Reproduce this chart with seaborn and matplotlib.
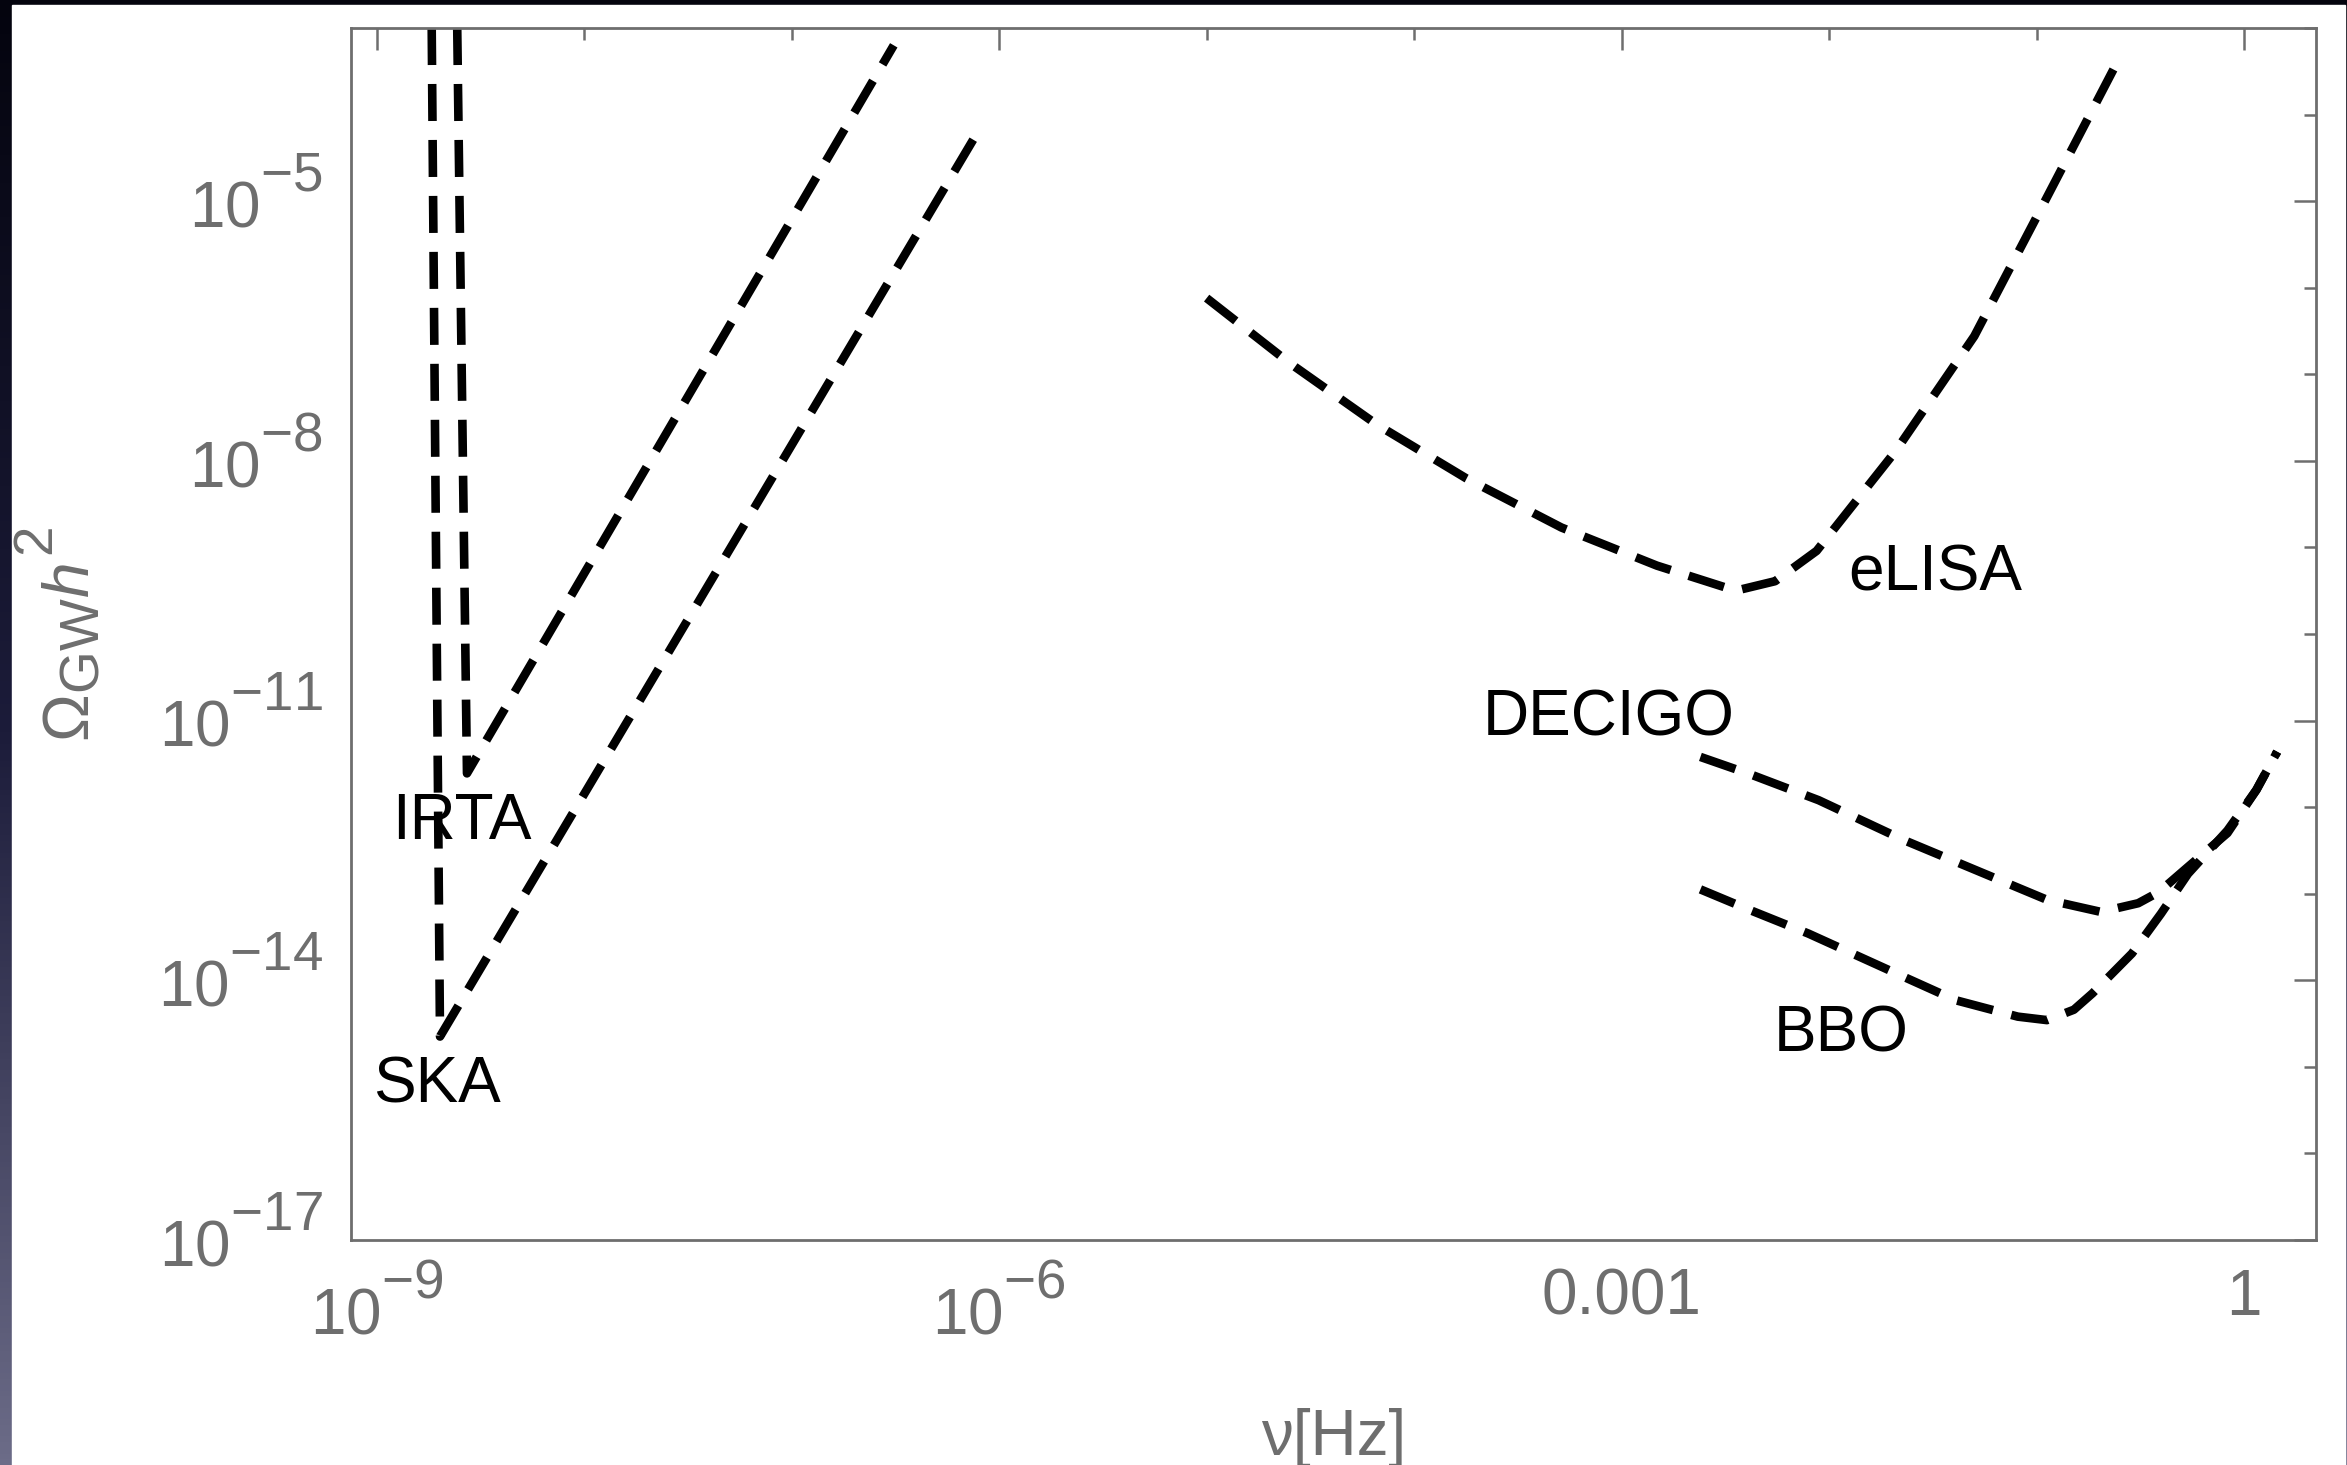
import numpy as np
import pandas as pd
import matplotlib
matplotlib.use("Agg")
import matplotlib.pyplot as plt
import matplotlib._mathtext as _mt
from matplotlib.colors import LinearSegmentedColormap
from matplotlib.patches import Rectangle
from matplotlib.ticker import FixedLocator, FixedFormatter, NullFormatter
import seaborn as sns

# ---------------- data (log10 values) ----------------
ska_logx = [-8.735, -8.695, -6.125]
ska_logy = [-3.0, -14.65, -4.29]

irta_logx = [-8.612, -8.565, -6.508]
irta_logy = [-3.0, -11.61, -3.20]

elisa_logx = [-5.00, -4.60, -4.18, -3.75, -3.29, -2.83, -2.45, -2.26, -2.06,
              -1.68, -1.30, -0.99, -0.61]
elisa_logy = [-6.12, -6.87, -7.58, -8.20, -8.77, -9.21, -9.50, -9.39, -9.04,
              -7.89, -6.56, -5.14, -3.39]

decigo_logx = [-2.62, -2.38, -2.05, -1.64, -1.37, -0.95, -0.69, -0.51, -0.41,
               -0.27, -0.08, 0.06, 0.16]
decigo_logy = [-11.42, -11.62, -11.92, -12.38, -12.65, -13.07, -13.21, -13.11,
               -12.98, -12.69, -12.30, -11.80, -11.36]

bbo_logx = [-2.62, -2.38, -2.10, -1.64, -1.39, -1.09, -0.95, -0.82, -0.73,
            -0.54, -0.40, -0.27, -0.08, 0.06, 0.16]
bbo_logy = [-12.95, -13.19, -13.46, -13.96, -14.23, -14.42, -14.46, -14.34,
            -14.15, -13.69, -13.23, -12.77, -12.27, -11.80, -11.36]

curve_labels = ["eLISA", "DECIGO", "BBO", "IRTA", "SKA"]
label_logx = [-1.49, -3.06, -1.94, -8.59, -8.71]
label_logy = [-9.30, -10.98, -14.63, -12.17, -15.21]

x_major_exp = [-9, -6, -3, 0]
x_major_labels = [r"$10^{-9}$", r"$10^{-6}$", "0.001", "1"]
x_minor_exp = list(range(-9, 1))
y_major_exp = [-17, -14, -11, -8, -5]
y_major_labels = [r"$10^{-17}$", r"$10^{-14}$", r"$10^{-11}$", r"$10^{-8}$", r"$10^{-5}$"]
y_minor_exp = list(range(-17, -2))
x_lim_exp = (-9.124, 0.347)
y_lim_exp = (-17.0, -3.0)

# ---------------- style ----------------
sns.set_theme(style="white")
plt.rcParams["font.family"] = ["Liberation Sans", "DejaVu Sans"]
plt.rcParams["mathtext.fontset"] = "custom"
plt.rcParams["mathtext.rm"] = "Liberation Sans"
plt.rcParams["mathtext.it"] = "Liberation Sans:italic"
plt.rcParams["mathtext.bf"] = "Liberation Sans:bold"
try:
    _mt.SHRINK_FACTOR = 0.86
    _mt.FontConstantsBase.sup1 = 1.05
except Exception:
    pass

GRAY = "#6e6e6e"
FS = 46

W, H = 2347, 1465
fig = plt.figure(figsize=(W / 100, H / 100), dpi=100)

# dark slide background with white panel
bg = fig.add_axes([0, 0, 1, 1], zorder=-10)
grad = np.linspace(0, 1, 256).reshape(-1, 1)
cmap_bg = LinearSegmentedColormap.from_list("bg", ["#04040e", "#1c1c3a", "#6c6c88"])
bg.imshow(grad, aspect="auto", cmap=cmap_bg, extent=[0, 1, 0, 1], origin="upper")
bg.add_patch(Rectangle((12 / W, 0), (2345 - 12) / W, (H - 5) / H,
                       transform=bg.transAxes, color="white", zorder=2))
bg.set_axis_off()

left, right, top, bottom = 351, 2316, 28, 1240
ax = fig.add_axes([left / W, (H - bottom) / H, (right - left) / W, (bottom - top) / H])
ax.set_facecolor("white")
ax.set_xscale("log")
ax.set_yscale("log")

curves = [(ska_logx, ska_logy), (irta_logx, irta_logy), (elisa_logx, elisa_logy),
          (decigo_logx, decigo_logy), (bbo_logx, bbo_logy)]
for lx, ly in curves:
    df = pd.DataFrame({"x": np.power(10.0, lx), "y": np.power(10.0, ly)})
    sns.lineplot(data=df, x="x", y="y", ax=ax, sort=False, estimator=None,
                 color="black", linewidth=6.2, linestyle=(0, (4.3, 2.2)),
                 solid_capstyle="butt", dash_capstyle="butt")

for name, lx, ly in zip(curve_labels, label_logx, label_logy):
    ax.text(10 ** lx, 10 ** ly, name, fontsize=FS, color="black",
            ha="center", va="center")

ax.set_xlim(10 ** x_lim_exp[0], 10 ** x_lim_exp[1])
ax.set_ylim(10 ** y_lim_exp[0], 10 ** y_lim_exp[1])

ax.xaxis.set_major_locator(FixedLocator([10.0 ** e for e in x_major_exp]))
ax.xaxis.set_major_formatter(FixedFormatter(x_major_labels))
ax.xaxis.set_minor_locator(FixedLocator([10.0 ** e for e in x_minor_exp if e not in x_major_exp]))
ax.xaxis.set_minor_formatter(NullFormatter())
ax.yaxis.set_major_locator(FixedLocator([10.0 ** e for e in y_major_exp]))
ax.yaxis.set_major_formatter(FixedFormatter(y_major_labels))
ax.yaxis.set_minor_locator(FixedLocator([10.0 ** e for e in y_minor_exp if e not in y_major_exp]))
ax.yaxis.set_minor_formatter(NullFormatter())

ax.tick_params(which="both", direction="in", top=True, right=True,
               color=GRAY, width=1.8, labelcolor=GRAY, labelsize=FS)
ax.tick_params(which="major", length=15.5)
ax.tick_params(which="minor", length=8.5)
ax.tick_params(axis="y", which="major", pad=20)
ax.tick_params(axis="x", which="major", pad=20)
for lab in ax.get_yticklabels():
    lab.set_verticalalignment("center")

for sp in ax.spines.values():
    sp.set_color(GRAY)
    sp.set_linewidth(2.0)
    sp.set_visible(True)

ax.set_xlabel("ν[Hz]", fontsize=FS, color=GRAY, labelpad=44)
ax.set_ylabel(r"$\Omega_{\mathrm{GW}}h^{2}$", fontsize=FS, color=GRAY, labelpad=40)
ax.grid(False)

fig.savefig("out.png", dpi=100, facecolor=fig.get_facecolor())
